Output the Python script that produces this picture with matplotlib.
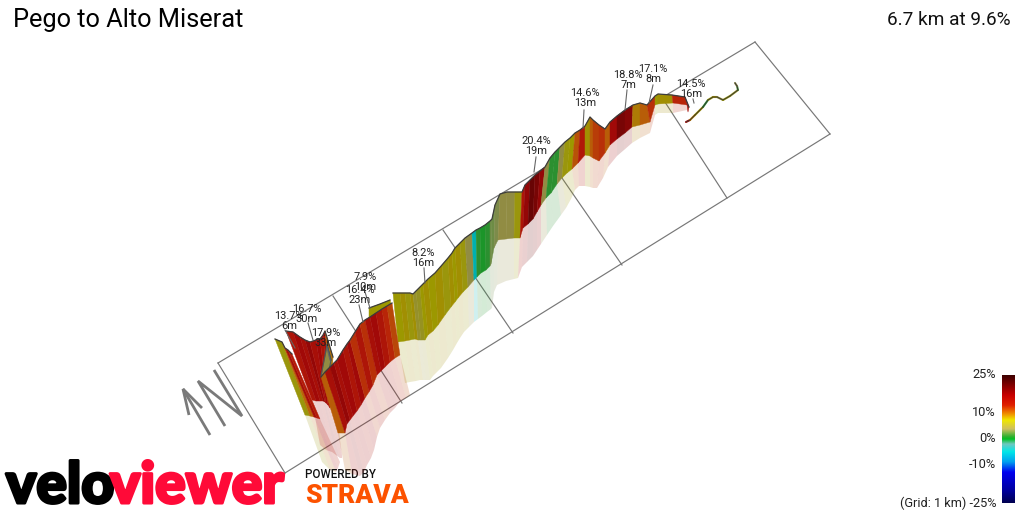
import matplotlib
matplotlib.use("Agg")
import matplotlib.pyplot as plt
import matplotlib.patheffects as pe
import numpy as np
from matplotlib.collections import PolyCollection
from matplotlib.colors import LinearSegmentedColormap, Normalize

# ---------- data (canvas px) ----------
TITLE = "Pego to Alto Miserat"
SUMMARY = "6.7 km at 9.6%"

grid_far_x = [218, 333, 443, 553, 663, 755]
grid_far_y = [363, 296, 230, 165, 99, 42]
grid_near_x = [285, 402, 513, 622, 727, 830]
grid_near_y = [473, 403, 333, 265, 198, 134]

# crumpled start, back part
a_top_x = [286, 293, 300, 305, 310, 316, 320, 323, 325, 329, 333]
a_top_y = [331, 332, 337, 340, 342, 340, 339, 335, 331, 344, 357]
a_base_x = [312, 316, 320, 323, 325, 326, 328, 330, 331, 332, 333]
a_base_y = [400, 401, 401, 401, 402, 403, 405, 408, 395, 375, 357]
a_shad_x = [320, 326, 332, 336, 340, 342, 342, 342, 340, 337, 333]
a_shad_y = [445, 450, 452, 455, 458, 458, 456, 455, 440, 400, 357]
a_grade = [15, 17, 16, 18, 16, 17, 15, 16, 10.5, 9.5]

# crumpled start, front part
f_top_x = [275, 282, 285, 288, 292]
f_top_y = [339, 342, 348, 350, 354]
f_base_x = [305, 310, 314, 317, 320]
f_base_y = [415, 416, 417, 418, 419]
f_shad_x = [322, 330, 336, 338, 340]
f_shad_y = [462, 470, 472, 468, 462]
f_grade = [7, 10, 16, 14]

# small khaki fold
k_top_x = [327, 331]
k_top_y = [345, 360]
k_base_x = [321, 328]
k_base_y = [376, 376]
k_grade = [4.5]

# main steep wall
b_top_x = [321, 325, 330, 334, 337, 343, 347, 350, 355, 360, 365, 370, 376, 382, 387, 392]
b_top_y = [377, 372, 367, 363, 360, 350, 344, 340, 332, 324, 320, 317, 313, 309, 306, 303]
b_base_x = [338, 345, 347, 350, 353, 357, 361, 365, 369, 373, 377, 381, 385, 390, 395, 400]
b_base_y = [433, 433, 424, 420, 416, 411, 405, 398, 392, 385, 375, 371, 367, 362, 358, 355]
b_shad_x = [345, 352, 360, 364, 367, 371, 374, 377, 380, 385, 390, 395, 398, 401, 406, 410]
b_shad_y = [470, 474, 476, 472, 465, 458, 450, 437, 428, 420, 413, 408, 404, 401, 398, 395]
b_grade = [10.5, 16, 18, 16, 17, 15, 17, 12.5, 15, 12.5, 16, 17, 15, 13, 11.5]

# thin olive strip behind the wall
s_top_x = [369, 380, 390]
s_top_y = [308, 304, 300]
s_base_x = [369, 380, 392]
s_base_y = [318, 314, 308]
s_grade = [7.5, 7.5]

# rest of the climb
c_top_x = [393, 400, 405, 410, 413, 416, 420, 423, 428, 435, 442, 448, 452, 455, 460, 465, 472, 476, 480, 485,
           490, 492, 495, 500, 507, 515, 522,
           525, 530, 535, 540, 545, 550, 555, 560, 565, 570, 575, 580, 585, 590, 593, 599, 605, 610, 617,
           625, 633, 640, 647, 655, 658, 672, 685, 689]
c_top_y = [293, 293, 293, 293, 294, 291, 287, 284, 279, 273, 265, 258, 253, 248, 243, 238, 233, 230, 228, 225,
           221, 219, 205, 194, 192, 192, 192,
           185, 180, 175, 171, 167, 158, 152, 147, 142, 138, 133, 130, 126, 117, 120, 125, 129, 122, 116,
           110, 105, 103, 105, 96, 94, 95, 97, 107]
c_base_x = [398, 405, 410, 415, 418, 421, 425, 428, 433, 438, 445, 451, 455, 458, 463, 468, 474, 477, 481, 486,
            490, 491, 494, 498, 506, 514, 520,
            523, 528, 533, 537, 541, 546, 551, 557, 562, 567, 572, 578, 585, 590, 593, 599, 605, 610, 617,
            625, 632, 640, 650, 655, 658, 673, 687, 688]
c_base_y = [342, 341, 340, 339, 340, 340, 340, 335, 331, 325, 315, 307, 302, 298, 292, 287, 280, 277, 273, 270,
            266, 264, 248, 240, 239, 238, 238,
            228, 224, 219, 212, 205, 198, 193, 184, 178, 173, 169, 163, 155, 156, 158, 161, 153, 145, 139,
            133, 127, 125, 122, 105, 104, 103, 105, 112]
c_shad_x = [405, 410, 416, 420, 423, 426, 430, 433, 437, 441, 448, 453, 457, 460, 464, 469, 474, 478, 482, 487,
            491, 492, 494, 497, 506, 514, 518,
            522, 527, 533, 537, 541, 547, 553, 561, 566, 571, 575, 579, 585, 590, 593, 597, 603, 608, 617,
            624, 632, 640, 650, 655, 658, 673, 687, 688]
c_shad_y = [383, 382, 381, 380, 380, 380, 380, 376, 372, 368, 358, 350, 343, 338, 332, 327, 322, 319, 316, 312,
            309, 308, 292, 285, 281, 279, 278,
            267, 262, 256, 250, 244, 235, 226, 215, 208, 199, 190, 186, 186, 187, 188, 188, 178, 167, 156,
            150, 143, 138, 133, 115, 113, 113, 110, 112]
c_grade = [7.5, 8, 7, 8, 5.5, 6, 7.5, 8, 7.5, 8, 7, 8, 7.5, 8, 7, 4.5, -5, 1, 0.5, 1,
           3, 3, 3.5, 4.5, 4.5, 7, 15,
           18, 21, 20, 18, 4.5, 1, 1, 4.5, 7, 7.5, 11, 14.5, 8, 10.5, 12, 12.5, 10.5, 17, 20,
           19, 9, 10.5, 12.5, 7.5, 8, 13, 16]

tail_x = [686, 690, 695, 703, 708, 713, 717, 723, 730, 738, 737, 735]
tail_y = [122, 120, 115, 107, 100, 97, 97, 100, 96, 90, 86, 83]
tail_grade = [16, 9, 8, 1, 7, 8, 5, 7, 6, 2, 4]

label_text = ["13.7%\n6m", "16.7%\n30m", "17.9%\n33m", "16.4%\n23m", "7.9%\n10m", "8.2%\n16m",
              "20.4%\n19m", "14.6%\n13m", "18.8%\n7m", "17.1%\n8m", "14.5%\n16m"]
label_x = [289, 307, 326, 360, 365, 423, 536, 585, 628, 653, 691]
label_y = [321, 314, 338, 295, 282, 258, 146, 98, 80, 74, 89]
leader_x0 = [285, 308, 327, 359, 365, 424, 536, 584, 627, 653, 693]
leader_y0 = [330, 323, 348, 305, 292, 268, 157, 110, 90, 85, 99]
leader_x1 = [295, 313, 330, 363, 370, 425, 534, 583, 625, 649, 694]
leader_y1 = [348, 340, 360, 322, 308, 283, 172, 128, 110, 103, 103]

north_arrow_x = [[210, 183], [189, 183, 202]]
north_arrow_y = [[435, 389], [415, 389, 408]]
north_n_x = [225, 198, 242, 214]
north_n_y = [426, 381, 416, 370]

scale_vals = [25, 17.2, 13.3, 10, 7.5, 4, 1, 0, -2, -5, -9, -13, -20, -25]
scale_cols = ["#3d0000", "#c80000", "#e02000", "#f08c00", "#f0e800", "#cfc060", "#30b030", "#00c020",
              "#70c8c0", "#00e8e8", "#00a0f0", "#0000f0", "#0000a0", "#000050"]
wall_cols = ["#300000", "#a00808", "#b82008", "#b86808", "#9c9800", "#8f8a50", "#2a9030", "#0a9a20",
             "#5a9a98", "#00b0b0", "#0080c0", "#0000c0", "#000080", "#000040"]
tick_text = ["25%", "10%", "0%", "-10%", "(Grid: 1 km) -25%"]
tick_y = [375, 413, 439, 464, 503]

# ---------- drawing ----------
fig = plt.figure(figsize=(10.24, 5.12), dpi=100)
ax = fig.add_axes([0, 0, 1, 1])
ax.set_xlim(0, 1024)
ax.set_ylim(512, 0)
ax.axis("off")
FONT = "Roboto"

norm = Normalize(-25, 25)
pos = [(v + 25) / 50 for v in scale_vals[::-1]]
cmap = LinearSegmentedColormap.from_list("grade", list(zip(pos, scale_cols[::-1])), N=512)
wall_cmap = LinearSegmentedColormap.from_list("wall", list(zip(pos, wall_cols[::-1])), N=512)

# grid
grid_col = "#777777"
ax.plot([grid_far_x[0], grid_far_x[-1]], [grid_far_y[0], grid_far_y[-1]], color=grid_col, lw=0.85, zorder=1)
ax.plot([grid_near_x[0], grid_near_x[-1]], [grid_near_y[0], grid_near_y[-1]], color=grid_col, lw=0.85, zorder=1)
for fx, fy, nx, ny in zip(grid_far_x, grid_far_y, grid_near_x, grid_near_y):
    ax.plot([fx, nx], [fy, ny], color=grid_col, lw=0.85, zorder=1)


def quads(x0, y0, x1, y1):
    return [[(x0[i], y0[i]), (x0[i + 1], y0[i + 1]), (x1[i + 1], y1[i + 1]), (x1[i], y1[i])]
            for i in range(len(x0) - 1)]


def ribbon(tx, ty, bx, by, sx, sy, grade, z):
    if sx is not None:
        pale = PolyCollection(quads(bx, by, sx, sy), array=np.array(grade), cmap=wall_cmap, norm=norm,
                              alpha=0.19, linewidths=0, zorder=z)
        ax.add_collection(pale)
    wall = PolyCollection(quads(tx, ty, bx, by), array=np.array(grade), cmap=wall_cmap, norm=norm,
                          linewidths=0.3, edgecolors="face", zorder=z + 0.1)
    ax.add_collection(wall)
    ax.plot(tx, ty, color="#3c3c3c", lw=0.9, zorder=z + 0.2, solid_joinstyle="round")


ribbon(s_top_x, s_top_y, s_base_x, s_base_y, None, None, s_grade, 2.5)
ribbon(a_top_x, a_top_y, a_base_x, a_base_y, a_shad_x, a_shad_y, a_grade, 2)
ribbon(f_top_x, f_top_y, f_base_x, f_base_y, f_shad_x, f_shad_y, f_grade, 2.3)
ribbon(c_top_x, c_top_y, c_base_x, c_base_y, c_shad_x, c_shad_y, c_grade, 3)
ribbon(k_top_x, k_top_y, k_base_x, k_base_y, None, None, k_grade, 3.8)
ax.plot(k_top_x + k_base_x[::-1] + k_top_x[:1], k_top_y + k_base_y[::-1] + k_top_y[:1],
        color="#4a5a5a", lw=0.8, zorder=4.05)
ribbon(b_top_x, b_top_y, b_base_x, b_base_y, b_shad_x, b_shad_y, b_grade, 4)

# tail of the route
for i in range(len(tail_grade)):
    ax.plot(tail_x[i:i + 2], tail_y[i:i + 2], color=wall_cmap(norm(tail_grade[i])), lw=1.5,
            zorder=5, solid_capstyle="round")
ax.plot(tail_x, tail_y, color="#333333", lw=0.6, zorder=5.1)

# labels
for t, x, y, x0, y0, x1, y1 in zip(label_text, label_x, label_y, leader_x0, leader_y0, leader_x1, leader_y1):
    ax.plot([x0, x1], [y0, y1], color="#666666", lw=0.8, zorder=6)
    ax.text(x, y, t, ha="center", va="center", fontsize=7.9, family=FONT, color="#222222",
            linespacing=1.0, zorder=7)

# north marker
north_col = "#7a7a7a"
for xs, ys in zip(north_arrow_x, north_arrow_y):
    ax.plot(xs, ys, color=north_col, lw=2, zorder=1, solid_capstyle="butt", solid_joinstyle="miter")
ax.plot(north_n_x, north_n_y, color=north_col, lw=2, zorder=1, solid_capstyle="butt", solid_joinstyle="miter")

# titles
ax.text(13, 20, TITLE, fontsize=18.3, family=FONT, va="center", ha="left", color="#000000")
ax.text(1011, 20, SUMMARY, fontsize=13.7, family=FONT, va="center", ha="right", color="#111111")

# colour scale
ax.imshow(np.linspace(25, -25, 256)[:, None], cmap=cmap, norm=norm, extent=(1002, 1015, 503, 375),
          aspect="auto", zorder=3)
ax.set_xlim(0, 1024)
ax.set_ylim(512, 0)
for t, y in zip(tick_text, tick_y):
    ax.text(996, y, t, fontsize=9.2, family=FONT, ha="right", va="center", color="#222222")

# brand marks
stroke_k = [pe.withStroke(linewidth=2.2, foreground="#000000")]
stroke_r = [pe.withStroke(linewidth=2.2, foreground="#ff0a38")]
ax.text(6, 503, "velo", fontsize=41, family="Lato", weight="black", color="#000000", ha="left",
        va="baseline", path_effects=stroke_k)
ax.text(110, 503, "viewer", fontsize=41, family="Lato", weight="black", color="#ff0a38", ha="left",
        va="baseline", path_effects=stroke_r)
ax.text(305, 478, "POWERED BY", fontsize=8.4, family=FONT, weight="medium", color="#111111", ha="left",
        va="baseline")
ax.text(305, 503, "STRAVA", fontsize=19, family=FONT, weight="black", color="#fc5200", ha="left",
        va="baseline")

fig.savefig("out.png", dpi=100)
